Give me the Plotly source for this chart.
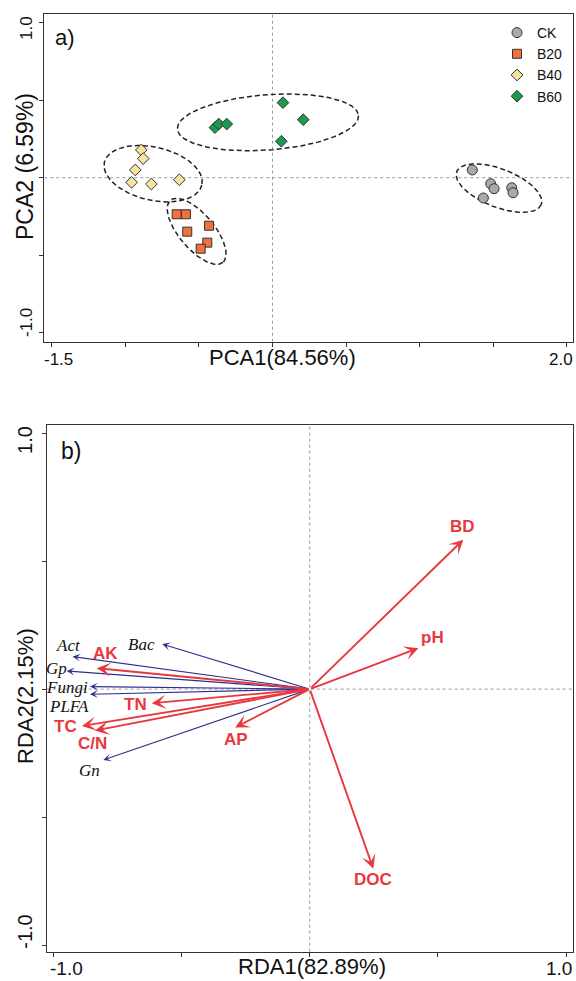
import numpy as np
import plotly.graph_objects as go

# ---------------- Panel a: PCA scores ----------------
groups = ["CK", "B20", "B40", "B60"]
ck_pc1 = [1.357, 1.482, 1.505, 1.625, 1.634, 1.432]
ck_pc2 = [0.050, -0.039, -0.071, -0.065, -0.097, -0.131]
b20_pc1 = [-0.651, -0.588, -0.579, -0.431, -0.443, -0.488]
b20_pc2 = [-0.236, -0.236, -0.348, -0.310, -0.419, -0.458]
b40_pc1 = [-0.891, -0.878, -0.932, -0.957, -0.823, -0.633]
b40_pc2 = [0.179, 0.123, 0.050, -0.030, -0.041, -0.013]
b60_pc1 = [0.071, 0.209, 0.060, -0.391, -0.365, -0.311]
b60_pc2 = [0.484, 0.374, 0.235, 0.323, 0.346, 0.346]

# confidence ellipses (centre, two conjugate semi-axis vectors) in data units
ell_cx = [1.538, -0.515, -0.811, -0.031]
ell_cy = [-0.067, -0.346, 0.026, 0.357]
ell_ux = [0.287, 0.178, 0.331, 0.615]
ell_uy = [-0.106, -0.200, -0.073, 0.044]
ell_vx = [-0.047, -0.091, -0.041, 0.014]
ell_vy = [-0.115, -0.073, -0.167, -0.178]

# ---------------- Panel b: RDA biplot ----------------
env_names = ["BD", "pH", "DOC", "AP", "TN", "TC", "C/N", "AK"]
env_rda1 = [0.599, 0.424, 0.248, -0.291, -0.616, -0.889, -0.838, -0.831]
env_rda2 = [0.584, 0.160, -0.702, -0.150, -0.055, -0.144, -0.162, 0.082]

mic_names = ["Bac", "Act", "Gp", "Fungi", "PLFA", "Gn"]
mic_rda1 = [-0.575, -0.925, -0.948, -0.857, -0.857, -0.805]
mic_rda2 = [0.176, 0.127, 0.071, 0.010, -0.020, -0.277]

# label offsets from arrow tips (pixels; right / down)
env_lab_dx = [-1, 14, 0, 1, -16, -16, -2, 9]
env_lab_dy = [-13, -11, 11, 12, 1, 1, 13, -15]
mic_lab_dx = [-21, -4, -10, -23, -21, -14]
mic_lab_dy = [0, -11, -2, 1, 12, 10]

SANS = "Liberation Sans, Arial, sans-serif"
SERIF = "Liberation Serif, Times New Roman, serif"
RED = "#e8383d"
BLUE = "#2c2f8e"
W, H = 576, 981

group_style = {
    "CK": dict(symbol="circle", color="#a9a9ac", size=10),
    "B20": dict(symbol="square", color="#f27039", size=9),
    "B40": dict(symbol="diamond", color="#f4e49e", size=9),
    "B60": dict(symbol="diamond", color="#1b9a50", size=9),
}
group_data = {"CK": (ck_pc1, ck_pc2), "B20": (b20_pc1, b20_pc2),
              "B40": (b40_pc1, b40_pc2), "B60": (b60_pc1, b60_pc2)}

fig = go.Figure()

# ellipses
phi = np.linspace(0, 2 * np.pi, 181)
for i in range(len(ell_cx)):
    ex = ell_cx[i] + ell_ux[i] * np.cos(phi) + ell_vx[i] * np.sin(phi)
    ey = ell_cy[i] + ell_uy[i] * np.cos(phi) + ell_vy[i] * np.sin(phi)
    fig.add_trace(go.Scatter(x=ex, y=ey, mode="lines", xaxis="x", yaxis="y",
                             line=dict(color="#222", width=1.5, dash="5px,3px"),
                             showlegend=False, hoverinfo="skip"))

for g in groups:
    st = group_style[g]
    xs, ys = group_data[g]
    fig.add_trace(go.Scatter(x=xs, y=ys, mode="markers", name=g, xaxis="x", yaxis="y",
                             marker=dict(symbol=st["symbol"], size=st["size"], color=st["color"],
                                         line=dict(color="#333", width=1))))

# invisible trace to activate panel b axes
fig.add_trace(go.Scatter(x=[0], y=[0], mode="markers", xaxis="x2", yaxis="y2",
                         marker=dict(size=1, color="rgba(0,0,0,0)"), showlegend=False,
                         hoverinfo="skip"))

# arrows for panel b
for i, n in enumerate(mic_names):
    fig.add_annotation(x=mic_rda1[i], y=mic_rda2[i], ax=0, ay=0, xref="x2", yref="y2",
                       axref="x2", ayref="y2", text="", showarrow=True,
                       arrowhead=3, arrowsize=1.2, arrowwidth=1.1, arrowcolor=BLUE)
    fig.add_annotation(x=mic_rda1[i], y=mic_rda2[i], xref="x2", yref="y2",
                       text="<i>" + n + "</i>", showarrow=False,
                       xshift=mic_lab_dx[i], yshift=-mic_lab_dy[i],
                       font=dict(family=SERIF, size=17, color="#111"))
for i, n in enumerate(env_names):
    fig.add_annotation(x=env_rda1[i], y=env_rda2[i], ax=0, ay=0, xref="x2", yref="y2",
                       axref="x2", ayref="y2", text="", showarrow=True,
                       arrowhead=3, arrowsize=1.25, arrowwidth=1.9, arrowcolor=RED)
    fig.add_annotation(x=env_rda1[i], y=env_rda2[i], xref="x2", yref="y2",
                       text="<b>" + n + "</b>", showarrow=False,
                       xshift=env_lab_dx[i], yshift=-env_lab_dy[i],
                       font=dict(family=SANS, size=17, color=RED))

# dotted centre lines
for xr, yr in (("x", "y"), ("x2", "y2")):
    fig.add_shape(type="line", xref=xr, yref=yr + " domain", x0=0, x1=0, y0=0, y1=1,
                  line=dict(color="#9a9a9a", width=1, dash="dot"), layer="below")
    fig.add_shape(type="line", xref=xr + " domain", yref=yr, x0=0, x1=1, y0=0, y1=0,
                  line=dict(color="#9a9a9a", width=1, dash="dot"), layer="below")

axis_common = dict(showline=True, mirror=True, linecolor="#333", linewidth=1.3,
                   ticks="outside", ticklen=4, tickwidth=1, tickcolor="#333",
                   showgrid=False, zeroline=False, showticklabels=False)

fig.update_layout(
    width=W, height=H, margin=dict(l=0, r=0, t=0, b=0),
    paper_bgcolor="white", plot_bgcolor="white",
    xaxis=dict(domain=[44.3 / W, 572.7 / W], range=[-1.550, 2.039],
               tickvals=[-1.5, -1.0, -0.5, 0, 0.5, 1.0, 1.5, 2.0], anchor="y", **axis_common),
    yaxis=dict(domain=[1 - 341.7 / H, 1 - 14.3 / H], range=[-1.058, 1.054],
               tickvals=[-1.0, -0.5, 0, 0.5, 1.0], anchor="x", **axis_common),
    xaxis2=dict(domain=[46.7 / W, 573.3 / W], range=[-1.026, 1.028],
                tickvals=[-1.0, -0.5, 0, 0.5, 1.0], anchor="y2", **axis_common),
    yaxis2=dict(domain=[1 - 951.7 / H, 1 - 425 / H], range=[-1.026, 1.032],
                tickvals=[-1.0, -0.5, 0, 0.5, 1.0], anchor="x2", **axis_common),
    legend=dict(x=497 / W, y=1 - 17 / H, xanchor="left", yanchor="top",
                bgcolor="rgba(0,0,0,0)", font=dict(family=SANS, size=14, color="#111"),
                itemwidth=30, tracegroupgap=0),
    showlegend=True,
)

def txt(text, x, y, xref, yref, size, xshift=0, yshift=0, angle=0, family=SANS):
    fig.add_annotation(text=text, x=x, y=y, xref=xref, yref=yref, showarrow=False,
                       xshift=xshift, yshift=yshift, textangle=angle,
                       xanchor="center", yanchor="middle",
                       font=dict(family=family, size=size, color="#111"))

# tick labels (end values only, as in the original)
txt("-1.5", -1.5, 0, "x", "y domain", 17, xshift=7, yshift=-18)
txt("2.0", 2.0, 0, "x", "y domain", 17, xshift=-6, yshift=-18)
txt("1.0", 0, 1.0, "x domain", "y", 17, xshift=-18, yshift=-5, angle=-90)
txt("-1.0", 0, -1.0, "x domain", "y", 17, xshift=-18, yshift=10, angle=-90)

txt("-1.0", -1.0, 0, "x2", "y2 domain", 19, xshift=13, yshift=-17)
txt("1.0", 1.0, 0, "x2", "y2 domain", 19, xshift=-7, yshift=-17)
txt("1.0", 0, 1.0, "x2 domain", "y2", 20, xshift=-22, yshift=-7, angle=-90)
txt("-1.0", 0, -1.0, "x2 domain", "y2", 20, xshift=-22, yshift=13, angle=-90)

# axis titles
txt("PCA1(84.56%)", 282 / W, 1 - 358 / H, "paper", "paper", 22)
txt("PCA2 (6.59%)", 25 / W, 1 - 167 / H, "paper", "paper", 23, angle=-90)
txt("RDA1(82.89%)", 312 / W, 1 - 966 / H, "paper", "paper", 22)
txt("RDA2(2.15%)", 25 / W, 1 - 696 / H, "paper", "paper", 22, angle=-90)

# panel letters
txt("a)", 65 / W, 1 - 38 / H, "paper", "paper", 22)
txt("b)", 71 / W, 1 - 451 / H, "paper", "paper", 23)

fig.write_html("out.html", config={"displayModeBar": False},
               post_script="document.body.style.margin='0px';document.body.style.overflow='hidden';")
